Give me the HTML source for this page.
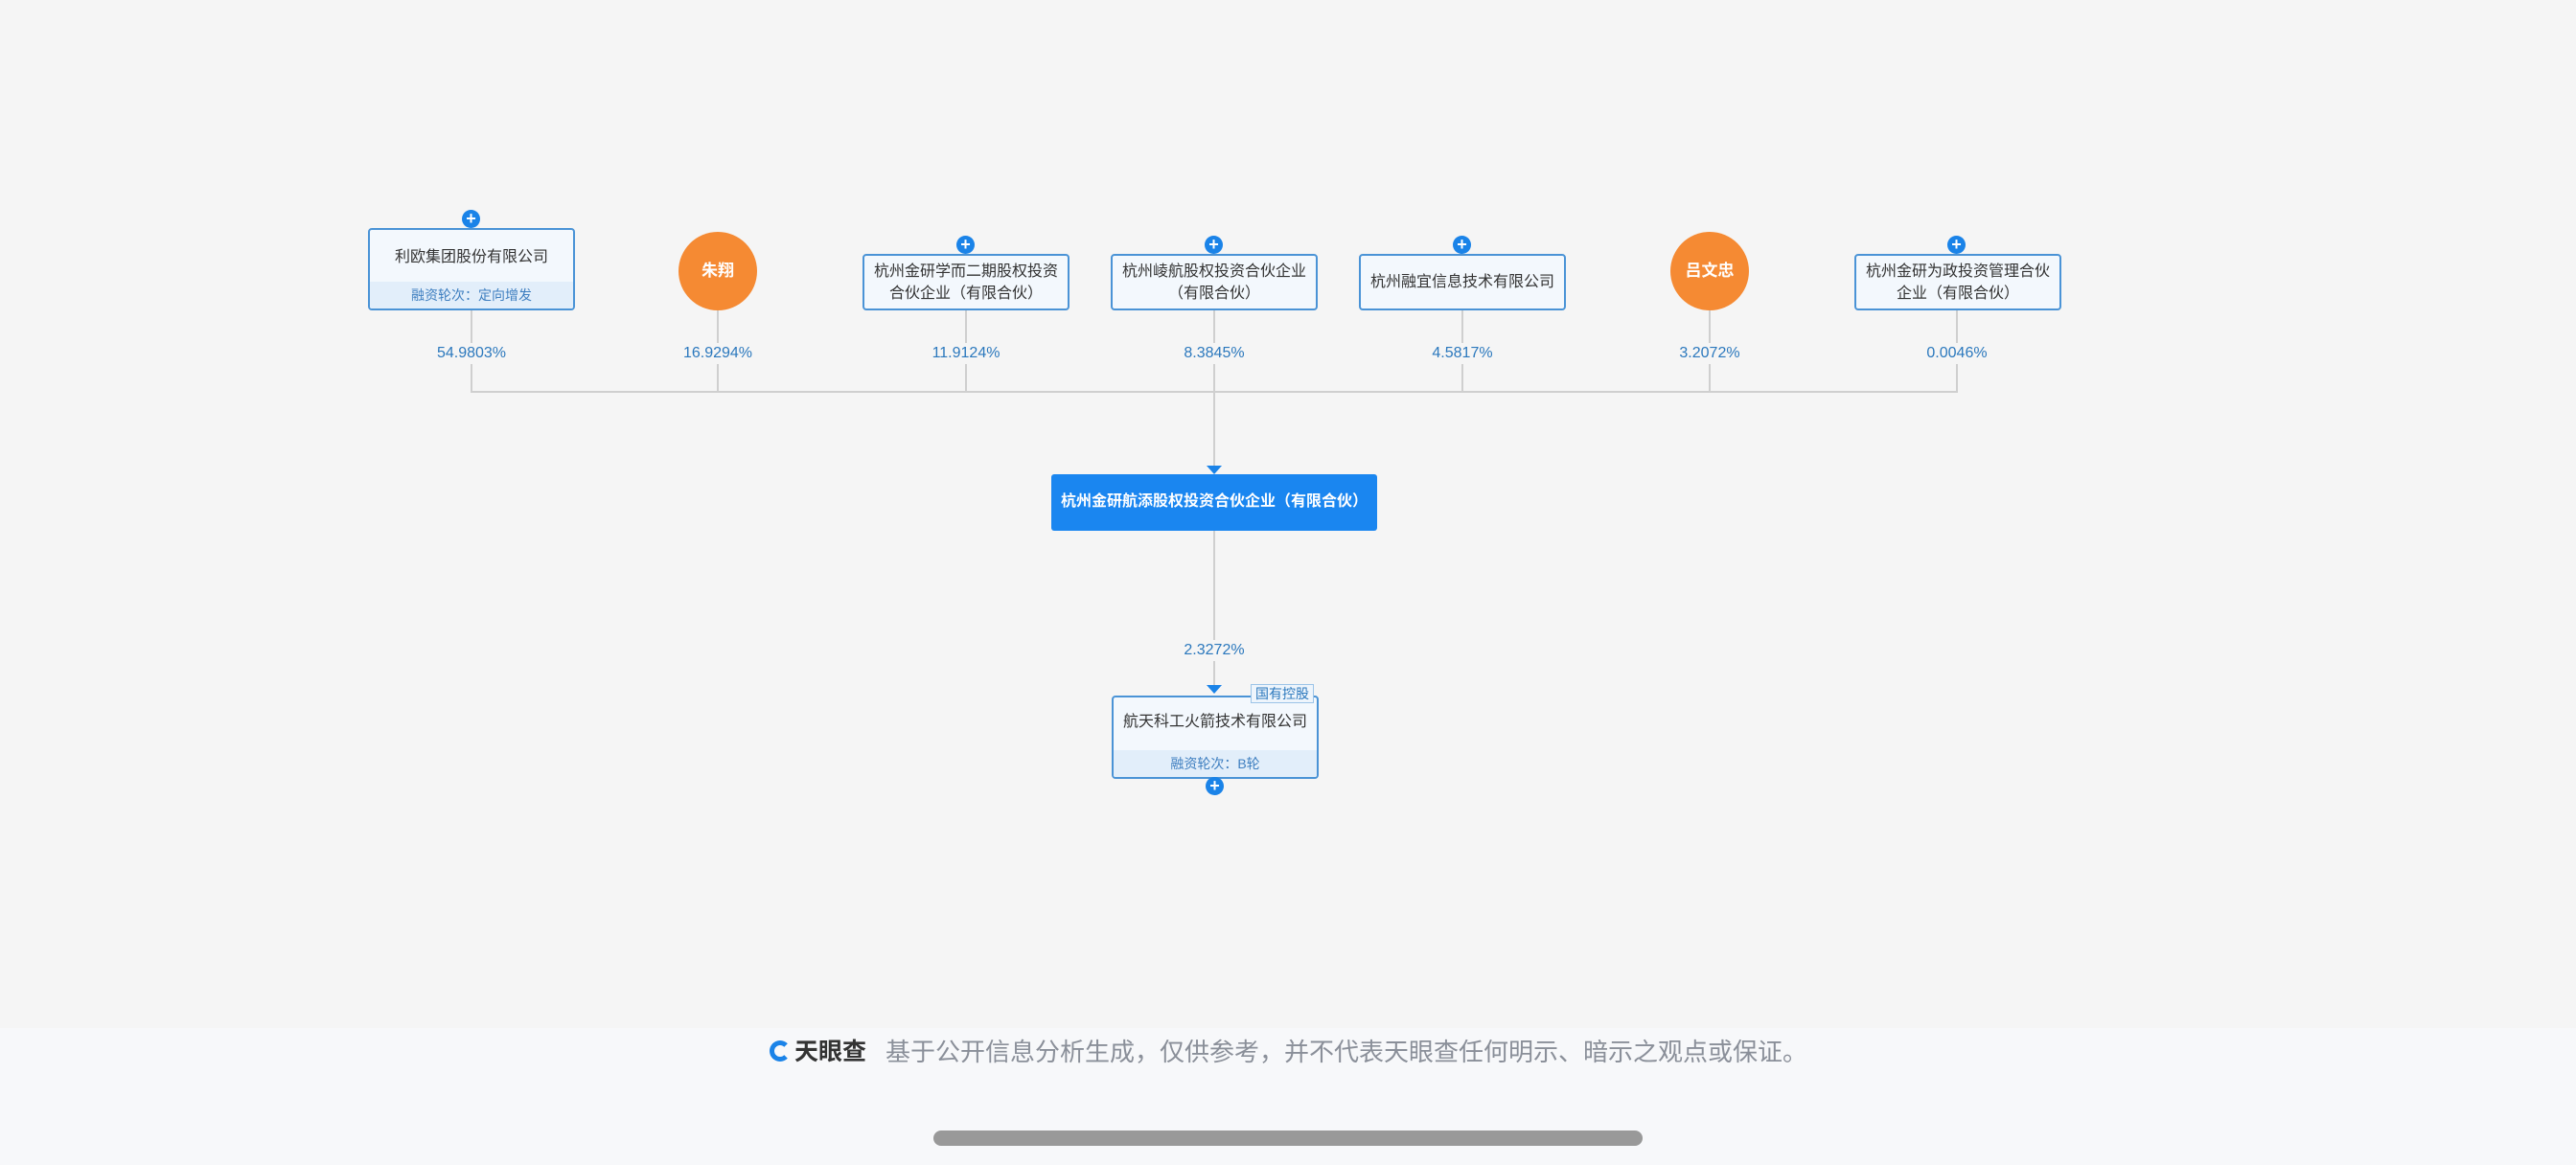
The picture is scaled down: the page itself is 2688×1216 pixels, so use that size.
<!DOCTYPE html>
<html><head><meta charset="utf-8"><style>
*{margin:0;padding:0;box-sizing:border-box}
body{width:2688px;height:1216px;background:#f5f5f5;position:relative;overflow:hidden;font-family:"Liberation Sans","Noto Sans CJK SC",sans-serif}
.box{position:absolute;width:216px;background:#f3f8fd;border:2px solid #4a93d6;border-radius:4px;color:#333;font-size:16px;line-height:23px;text-align:center;overflow:hidden;white-space:nowrap}
.sub{position:absolute;left:0;right:0;bottom:0;height:28px;background:#e2eefa;color:#3f7fc0;font-size:14px;line-height:28px}
.plus{position:absolute;width:19px;height:19px;border-radius:50%;background:#1a83e8;color:#fff;font-size:18px;line-height:19px;text-align:center;font-weight:bold}
.circ{position:absolute;width:82px;height:82px;border-radius:50%;background:#f58a33;color:#fff;font-size:17px;line-height:82px;text-align:center;font-weight:bold}
.pct{position:absolute;width:140px;text-align:center;color:#2b78bd;font-size:16px;line-height:22px;background:#f5f5f5}
.v{position:absolute;width:2px;background:#cfcfcf}
.h{position:absolute;height:2px;background:#cfcfcf}
.arr{position:absolute;width:0;height:0;border-left:8px solid transparent;border-right:8px solid transparent;border-top:9px solid #1a83e8}
</style></head><body>
<div class="v" style="left:491px;top:324px;height:86px"></div>
<div class="v" style="left:748px;top:324px;height:86px"></div>
<div class="v" style="left:1007px;top:324px;height:86px"></div>
<div class="v" style="left:1266px;top:324px;height:168px"></div>
<div class="v" style="left:1525px;top:324px;height:86px"></div>
<div class="v" style="left:1783px;top:324px;height:86px"></div>
<div class="v" style="left:2041px;top:324px;height:86px"></div>
<div class="h" style="left:491px;top:408px;width:1552px"></div>
<div class="v" style="left:1266px;top:554px;height:166px"></div>

<div class="pct" style="left:422px;top:358px">54.9803%</div>
<div class="pct" style="left:679px;top:358px">16.9294%</div>
<div class="pct" style="left:938px;top:358px">11.9124%</div>
<div class="pct" style="left:1197px;top:358px">8.3845%</div>
<div class="pct" style="left:1456px;top:358px">4.5817%</div>
<div class="pct" style="left:1714px;top:358px">3.2072%</div>
<div class="pct" style="left:1972px;top:358px">0.0046%</div>
<div class="pct" style="left:1197px;top:668px">2.3272%</div>

<div class="box" style="left:384px;top:238px;height:86px"><div style="padding-top:17px">利欧集团股份有限公司</div><div class="sub">融资轮次：定向增发</div></div>
<div class="plus" style="left:482px;top:219px">+</div>

<div class="circ" style="left:708px;top:242px">朱翔</div>
<div class="circ" style="left:1743px;top:242px">吕文忠</div>

<div class="box" style="left:900px;top:265px;height:59px"><div style="padding-top:5px">杭州金研学而二期股权投资<br>合伙企业（有限合伙）</div></div>
<div class="plus" style="left:998px;top:246px">+</div>
<div class="box" style="left:1159px;top:265px;height:59px"><div style="padding-top:5px">杭州崚航股权投资合伙企业<br>（有限合伙）</div></div>
<div class="plus" style="left:1257px;top:246px">+</div>
<div class="box" style="left:1418px;top:265px;height:59px"><div style="padding-top:16px">杭州融宜信息技术有限公司</div></div>
<div class="plus" style="left:1516px;top:246px">+</div>
<div class="box" style="left:1935px;top:265px;height:59px"><div style="padding-top:5px">杭州金研为政投资管理合伙<br>企业（有限合伙）</div></div>
<div class="plus" style="left:2032px;top:246px">+</div>

<div class="arr" style="left:1259px;top:486px"></div>
<div style="position:absolute;left:1097px;top:495px;width:340px;height:59px;background:#1a86f0;border-radius:3px;color:#fff;font-size:16px;font-weight:bold;padding:14px 0 0 10px;white-space:nowrap">杭州金研航添股权投资合伙企业（有限合伙）</div>

<div class="arr" style="left:1259px;top:715px"></div>
<div class="box" style="left:1160px;top:726px;height:87px"><div style="padding-top:14px">航天科工火箭技术有限公司</div><div class="sub">融资轮次：B轮</div></div>
<div style="position:absolute;left:1305px;top:714px;width:66px;height:20px;background:#eef5fc;border:1px solid #9cc4e8;color:#2b78bd;font-size:14px;line-height:18px;text-align:center;white-space:nowrap">国有控股</div>
<div class="plus" style="left:1258px;top:811px">+</div>

<div style="position:absolute;left:0;top:1073px;width:2688px;height:143px;background:#f7f8fa"></div>
<div style="position:absolute;left:803px;top:1086px;width:22px;height:22px;border-radius:50%;border:5px solid #1a83e8;border-right-color:transparent"></div>
<div style="position:absolute;left:829px;top:1082px;font-size:25px;font-weight:bold;color:#333;line-height:32px">天眼查</div>
<div style="position:absolute;left:924px;top:1082px;font-size:26px;color:#8a8f99;line-height:32px">基于公开信息分析生成，仅供参考，并不代表天眼查任何明示、暗示之观点或保证。</div>
<div style="position:absolute;left:974px;top:1180px;width:740px;height:16px;border-radius:8px;background:#999"></div>
</body></html>
